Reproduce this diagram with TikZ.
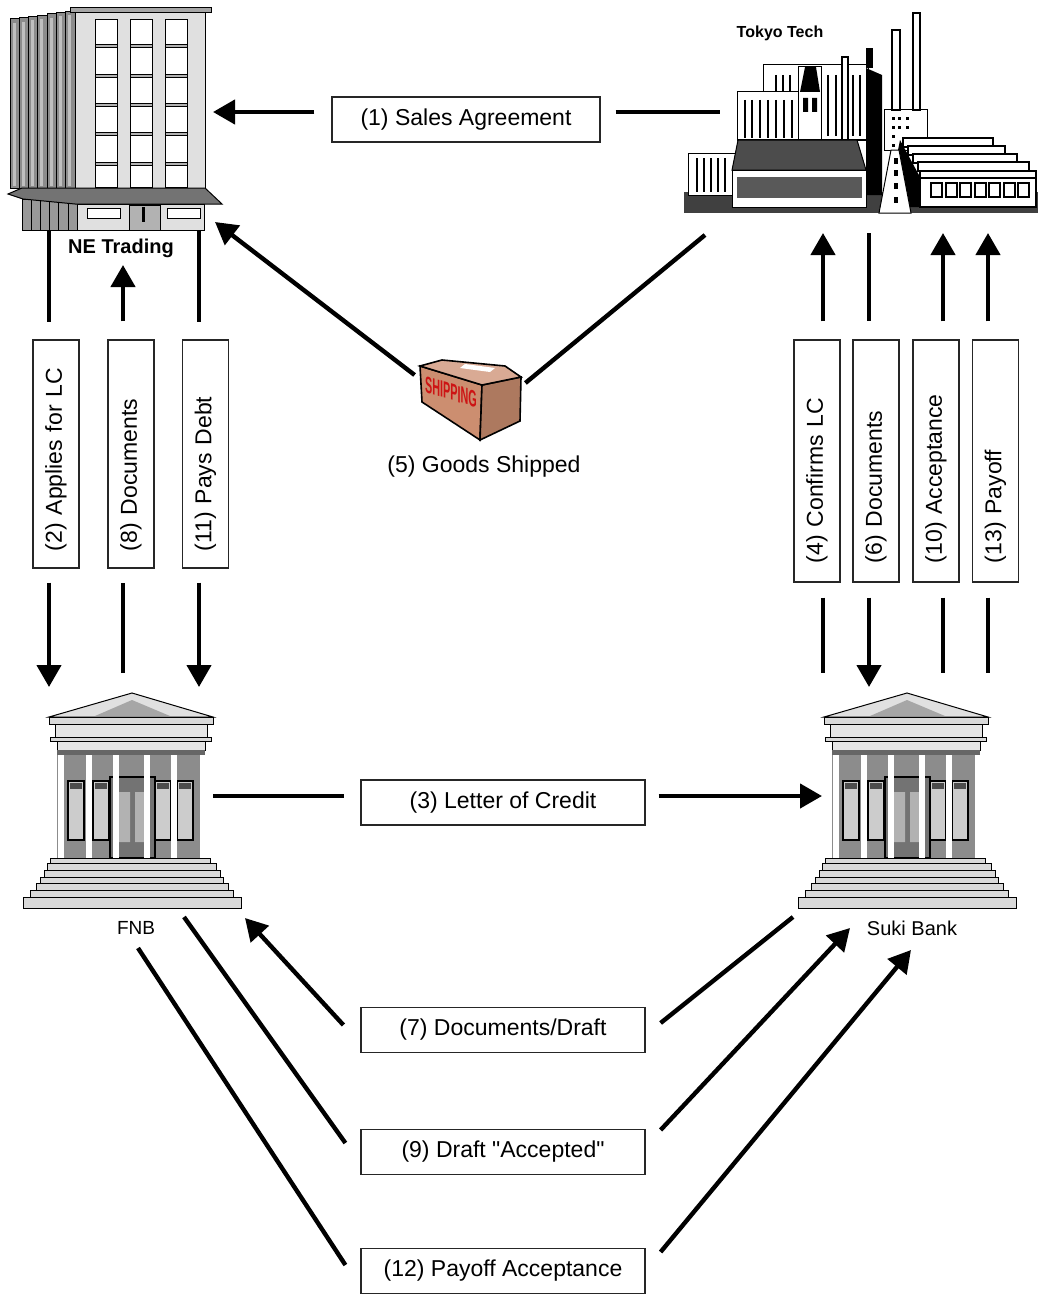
\documentclass[tikz,border=0pt]{standalone}
\usepackage{fontspec}
\usepackage{graphicx}
\setmainfont{Liberation Sans}[Ligatures=TeXOff]
\usetikzlibrary{arrows.meta}
\definecolor{boxtan}{RGB}{204,142,112}
\definecolor{shipred}{RGB}{205,20,20}
\tikzset{
  lbl/.style={draw=black!85, line width=0.6pt, fill=white, inner sep=0pt,
    minimum width=134pt, minimum height=22.5pt, font=\fontsize{11.5}{13}\selectfont},
  vlbl/.style={lbl, rotate=90, minimum width=0pt, minimum height=23pt,
    inner xsep=8.5pt, text width=97pt, align=left},
  vlblr/.style={vlbl, inner xsep=9.5pt, text width=102pt},
  link/.style={line width=2.2pt},
  arr/.style={link, -{Triangle[length=11pt,width=12pt]}},
  wall/.style={draw=black, line width=0.5pt},
  pics/bank/.style={code={
    % roof
    \filldraw[wall, fill=black!12] (49,717) -- (132,693) -- (213,717) -- cycle;
    \fill[black!35] (95,716) -- (132,700) -- (170,716) -- cycle;
    \filldraw[wall, fill=black!15] (49,717) rectangle (213,724);
    \filldraw[wall, fill=black!10] (55,724) rectangle (207,737);
    \filldraw[wall, fill=black!15] (50,737) rectangle (211,741);
    \filldraw[wall, fill=black!10] (57,741) rectangle (205,750);
    \fill[black!60] (57,750) rectangle (205,755);
    % colonnade
    \fill[black!45] (57,755) rectangle (200,858);
    \foreach \wx in {68,93,155,177} {
      \filldraw[wall, line width=1pt, fill=black!20] (\wx,781) rectangle ++(16,59);
      \fill[black!70] (\wx+2,783) rectangle ++(12,6);
    }
    \filldraw[wall, line width=1pt, fill=black!55] (110,777) rectangle (155,858);
    \fill[black!30] (117,792) rectangle (130,842) (135,792) rectangle (148,842);
    \foreach \cx in {58,86,113,144,171}
      \fill[white] (\cx,755) rectangle ++(6,103);
    % steps
    \foreach \ua/\ub/\uc/\ud in {23/241/897/908, 30/233/890/897, 36/228/883/890,
        40/223/877/883, 44/220/870/877, 47/216/863/870, 50/210/858/863}
      \filldraw[wall, fill=black!15] (\ua,\uc) rectangle (\ub,\ud);
  }}
}
\begin{document}
\begin{tikzpicture}[x=0.5pt,y=-0.5pt]
\useasboundingbox (0,0) rectangle (1041,1295);

% NE Trading building
\foreach \i in {0,...,6} {
  \filldraw[wall, fill=black!45] (10+9.3*\i,19-1.3*\i) rectangle (19.3+9.3*\i,188);
  \fill[black!25] (12.5+9.3*\i,23-1.3*\i) rectangle (15.5+9.3*\i,186);
}
\filldraw[wall, fill=black!12] (75,12) rectangle (205,190);
\filldraw[wall, fill=black!35] (70,8) rectangle (211,13);
\foreach \wx in {95,130,165} {
  \filldraw[wall, fill=white] (\wx,20) rectangle ++(22,167);
  \foreach \wy in {45,75,104,133,162}
    \filldraw[wall, fill=black!30] (\wx,\wy) rectangle ++(22,3);
}
\foreach \i in {0,...,5}
  \filldraw[wall, fill=black!40] (22+9.2*\i,199) rectangle ++(9.2,31);
\filldraw[wall, fill=black!12] (77,204) rectangle (204,230);
\filldraw[wall, fill=white] (87,208) rectangle (120,218);
\filldraw[wall, fill=white] (167,208) rectangle (200,218);
\filldraw[wall, fill=black!30] (129,205) rectangle (160,230);
\draw[line width=1.5pt] (143,207) -- (143,222);
\filldraw[wall, fill=black!55] (8,194) -- (22,188) -- (205,188) -- (222,204)
  -- (75,204) -- (23,199) -- cycle;
\node[font=\bfseries\fontsize{10}{12}\selectfont] (ne) at (121,248) {NE Trading};

% Tokyo Tech factory
\fill[black!75] (684,192) rectangle (1038,213);
\filldraw[wall, fill=white] (763,65) rectangle (868,140);
\fill[black] (866,68) -- (882,75) -- (882,195) -- (866,195) -- cycle;
\foreach \sx in {776,783,790,828,836,853,860}
  \draw[line width=1.2pt] (\sx,75) -- (\sx,136);
\filldraw[wall, line width=1pt, fill=white] (842,57) rectangle (848,140);
\fill[black] (866,48) rectangle (873,68);
\filldraw[wall, fill=white] (737,92) rectangle (800,140);
\foreach \sx in {745,752,760,768,776,784,792}
  \draw[line width=1.2pt] (\sx,100) -- (\sx,138);
\filldraw[wall, fill=white] (798,67) rectangle (821,140);
\fill[black] (800,92) -- (805,67) -- (816,67) -- (820,92) -- cycle;
\fill[black] (803,98) rectangle (808,112) (812,98) rectangle (817,112);
\filldraw[wall, fill=white] (688,153) rectangle (735,195);
\foreach \sx in {697,704,711,718,725}
  \draw[line width=1.4pt] (\sx,158) -- (\sx,192);
\filldraw[wall, fill=black!70] (732,170) -- (738,140) -- (857,140) -- (866,170) -- cycle;
\filldraw[wall, fill=white] (732,170) rectangle (866,207);
\fill[black!65] (737,177) rectangle (862,198);
\filldraw[wall, fill=white] (884,110) rectangle (927,150);
\foreach \dx/\dy in {892/117,898/117,906/117,892/126,898/126,906/126,892/135,892/144}
  \fill[black] (\dx,\dy) rectangle ++(3,3);
\filldraw[wall, line width=1.2pt, fill=white] (892,30) rectangle (900,110);
\filldraw[wall, line width=1.2pt, fill=white] (913,13) rectangle (920,110);
\fill[black] (900,140) -- (920,177) -- (920,207) -- (906,207) -- (898,150) -- cycle;
\foreach \i in {0,...,3}
  \filldraw[wall, line width=1pt, fill=white] (903+5*\i,138+8*\i) rectangle (993+12*\i,147+8*\i);
\filldraw[wall, line width=1pt, fill=white] (920,171) rectangle (1036,207);
\draw[line width=1pt] (920,178) -- (1036,178);
\foreach \i in {0,...,6}
  \draw[wall, line width=1pt] (931+14.5*\i,183) rectangle ++(11,14);
\filldraw[wall, fill=white] (891,150) -- (899,150) -- (911,213) -- (879,213) -- cycle;
\foreach \ry in {158,170,183,197}
  \fill[black] (893.5,\ry) rectangle ++(4,6);
\node[font=\bfseries\fontsize{8}{10}\selectfont] (tokyo) at (780,33) {Tokyo Tech};

% banks
\pic at (0,0) {bank};
\pic at (775,0) {bank};
\node[font=\fontsize{9.5}{11}\selectfont] (fnb) at (136,928) {FNB};
\node[font=\fontsize{10}{12}\selectfont] (suki) at (912,928) {Suki Bank};

% shipping box
\filldraw[wall, line width=0.8pt, fill=boxtan] (420,366) -- (482,385) -- (480,440) -- (422,402) -- cycle;
\filldraw[wall, line width=0.8pt, fill=boxtan!85!black] (482,385) -- (521,377) -- (520,421) -- (480,440) -- cycle;
\filldraw[wall, line width=0.8pt, fill=boxtan!75!white] (420,366) -- (442,360) -- (505,366) -- (521,377) -- (482,385) -- cycle;
\fill[white] (465,364) -- (495,368) -- (490,372) -- (460,368) -- cycle;
\node[yslant=-0.3, text=shipred, font=\bfseries\fontsize{9}{9}\selectfont, inner sep=0]
  (shiplogo) at (451,392) {\scalebox{0.6}[1.3]{SHIPPING}};
\node[minimum width=52pt, minimum height=40pt, inner sep=0] (goods) at (470,400) {};
\node[font=\fontsize{11.5}{13}\selectfont] (goodslbl) at (484,467) {(5) Goods Shipped};

% labels
\node[lbl] (sales) at (466,119.5) {(1) Sales Agreement};
\node[vlbl] (applies) at (56,454) {(2) Applies for LC};
\node[vlbl] (docsne) at (131,454) {(8) Documents};
\node[vlbl] (paysdebt) at (205.5,454) {(11) Pays Debt};
\node[vlblr] (confirms) at (817,461) {(4) Confirms LC};
\node[vlblr] (docstt) at (876,461) {(6) Documents};
\node[vlblr] (accept) at (936,461) {(10) Acceptance};
\node[vlblr] (payoff) at (995.5,461) {(13) Payoff};
\node[lbl, minimum width=142pt] (credit) at (503,802.5) {(3) Letter of Credit};
\node[lbl, minimum width=142pt] (docdraft) at (503,1030) {(7) Documents/Draft};
\node[lbl, minimum width=142pt] (draftacc) at (503,1152) {(9) Draft "Accepted"};
\node[lbl, minimum width=142pt] (payacc) at (503,1271) {(12) Payoff Acceptance};

% end points at the buildings
\coordinate (ne-sale) at (213,112);
\coordinate (tt-sale) at (720,112);
\coordinate (ne-goods) at (215,222);
\coordinate (tt-goods) at (705,235);
\coordinate (ne-a) at (49,230);
\coordinate (fnb-a) at (49,687);
\coordinate (ne-b) at (123,265);
\coordinate (fnb-b) at (123,673);
\coordinate (ne-c) at (199,230);
\coordinate (fnb-c) at (199,687);
\coordinate (tt-docs) at (869,233);
\coordinate (suki-docs) at (869,687);
\coordinate (fnb-credit) at (213,796);
\coordinate (suki-credit) at (822,796);
\coordinate (fnb-dd) at (245,918);
\coordinate (fnb-da) at (184,917);
\coordinate (fnb-pa) at (138,948);
\coordinate (suki-dd) at (793,917);
\coordinate (suki-da) at (850,928);
\coordinate (suki-pa) at (911,950);

% connectors
\draw[arr, shorten <=8.5pt] (ne-sale -| sales.west) -- (ne-sale);
\draw[link, shorten <=7.5pt] (tt-sale -| sales.east) -- (tt-sale);
\draw[link] ([xshift=1.5pt,yshift=8.5pt]goods.east) -- (tt-goods);
\draw[arr] ([xshift=-1.5pt,yshift=12.5pt]goods.west) -- (ne-goods);

\draw[link, shorten >=8.5pt] (ne-a) -- (ne-a |- applies.east);
\draw[arr, shorten <=7pt] (ne-a |- applies.west) -- (fnb-a);
\draw[arr, shorten <=9pt] (ne-b |- docsne.east) -- (ne-b);
\draw[link, shorten >=7pt] (fnb-b) -- (fnb-b |- docsne.west);
\draw[link, shorten >=8.5pt] (ne-c) -- (ne-c |- paysdebt.east);
\draw[arr, shorten <=7pt] (ne-c |- paysdebt.west) -- (fnb-c);

\foreach \nm/\cx in {confirms/823, accept/943, payoff/988} {
  \coordinate (tt-\nm) at (\cx,233);
  \coordinate (suki-\nm) at (\cx,673);
  \draw[arr, shorten <=9pt] (tt-\nm |- \nm.east) -- (tt-\nm);
  \draw[link, shorten <=7.5pt] (tt-\nm |- \nm.west) -- (suki-\nm);
}
\draw[link, shorten >=9pt] (tt-docs) -- (tt-docs |- docstt.east);
\draw[arr, shorten <=7.5pt] (tt-docs |- docstt.west) -- (suki-docs);

\draw[link, shorten >=8pt] (fnb-credit) -- (fnb-credit -| credit.west);
\draw[arr, shorten <=6.5pt] (suki-credit -| credit.east) -- (suki-credit);

\draw[arr] ([xshift=-8.5pt,yshift=2.5pt]docdraft.west) -- (fnb-dd);
\draw[link] ([xshift=-7.5pt,yshift=4.5pt]draftacc.west) -- (fnb-da);
\draw[link] ([xshift=-7.5pt,yshift=3pt]payacc.west) -- (fnb-pa);
\draw[link] ([xshift=7.5pt,yshift=3.5pt]docdraft.east) -- (suki-dd);
\draw[arr] ([xshift=7.5pt,yshift=11pt]draftacc.east) -- (suki-da);
\draw[arr] ([xshift=7.5pt,yshift=9.5pt]payacc.east) -- (suki-pa);
\end{tikzpicture}
\end{document}
